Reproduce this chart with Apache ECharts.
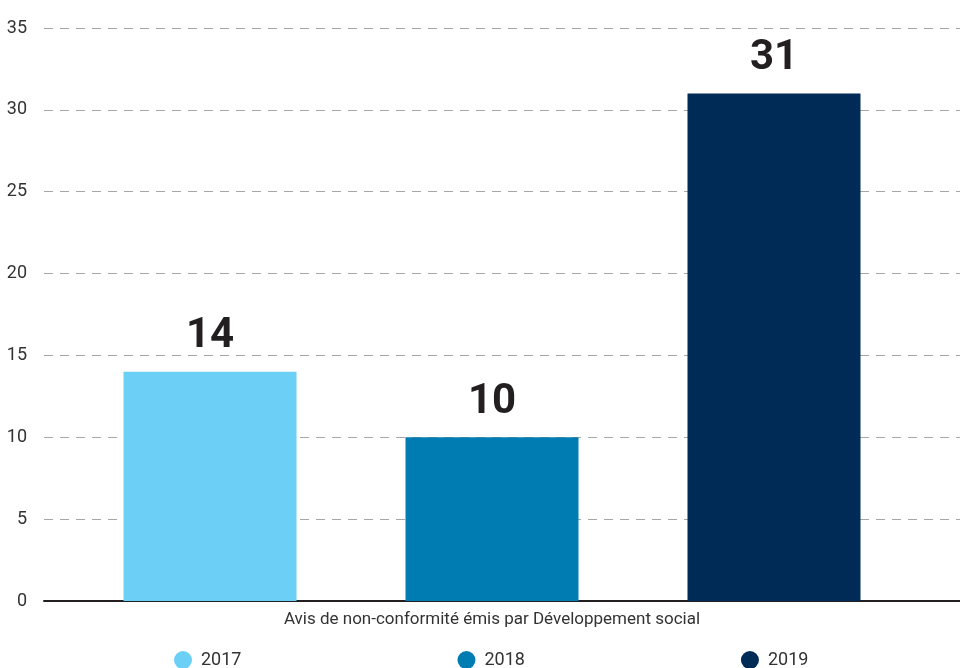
<!DOCTYPE html>
<html lang="fr">
<head>
    <meta charset="utf-8" />
    <title>Avis de non-conformité</title>
    <script type="text/javascript" src="https://cdn.jsdelivr.net/npm/echarts@6/dist/echarts.min.js"></script>
    <style>
        html, body { margin: 0; padding: 0; background: #fff; }
        #chart { width: 960px; height: 668px; }
    </style>
</head>
<body>
<div id="chart"></div>
<script type="text/javascript">
    var categories = ['Avis de non-conformité émis par Développement social'];
    var years = ['2017', '2018', '2019'];
    var values = [14, 10, 31];
    var yTicks = [0, 5, 10, 15, 20, 25, 30, 35];
    var colors = ['#6CCFF6', '#007CB2', '#002B56'];

    var font = "Roboto, 'Liberation Sans', sans-serif";

    var series = [];
    for (var i = 0; i < years.length; i++) {
        series.push({
            name: years[i],
            type: 'bar',
            xAxisIndex: 0,
            yAxisIndex: 0,
            barWidth: 173,
            barGap: '63%',
            itemStyle: { color: colors[i] },
            label: {
                show: true,
                position: 'top',
                distance: 14,
                fontFamily: font,
                fontWeight: 'bold',
                fontSize: 42,
                color: '#231F20'
            },
            data: [values[i]]
        });
    }

    var chart = echarts.init(document.getElementById('chart'));
    chart.setOption({
        animation: false,
        color: colors,
        textStyle: { fontFamily: font },
        grid: [
            // bars
            { left: 44, right: 20, top: 28, bottom: 67 },
            // axis lines + dashed grid lines, full width
            { left: 44, right: 0, top: 28, bottom: 67 }
        ],
        legend: {
            data: years,
            icon: 'circle',
            itemWidth: 18,
            itemHeight: 18,
            itemGap: 216,
            left: 169,
            top: 646,
            textStyle: { fontFamily: font, fontSize: 18, color: '#333', padding: [0, 0, 0, 4] }
        },
        xAxis: [
            {
                type: 'category',
                gridIndex: 0,
                data: categories,
                axisLine: { show: false },
                axisTick: { show: false },
                axisLabel: { margin: 10, fontFamily: font, fontSize: 17, color: '#333' }
            },
            {
                type: 'category',
                gridIndex: 1,
                data: categories,
                axisLine: { show: true, lineStyle: { color: '#231F20', width: 2 } },
                axisTick: { show: false },
                axisLabel: { show: false }
            }
        ],
        yAxis: [
            {
                type: 'value',
                gridIndex: 0,
                min: yTicks[0],
                max: yTicks[yTicks.length - 1],
                interval: 5,
                show: false,
                splitLine: { show: false }
            },
            {
                type: 'value',
                gridIndex: 1,
                min: yTicks[0],
                max: yTicks[yTicks.length - 1],
                interval: 5,
                axisLine: { show: false },
                axisTick: { show: false },
                axisLabel: { margin: 17, fontFamily: font, fontSize: 18, color: '#333' },
                splitLine: { show: true, lineStyle: { color: '#A6A6A6', width: 1, type: [9, 7] } }
            }
        ],
        series: series
    });
</script>
</body>
</html>
